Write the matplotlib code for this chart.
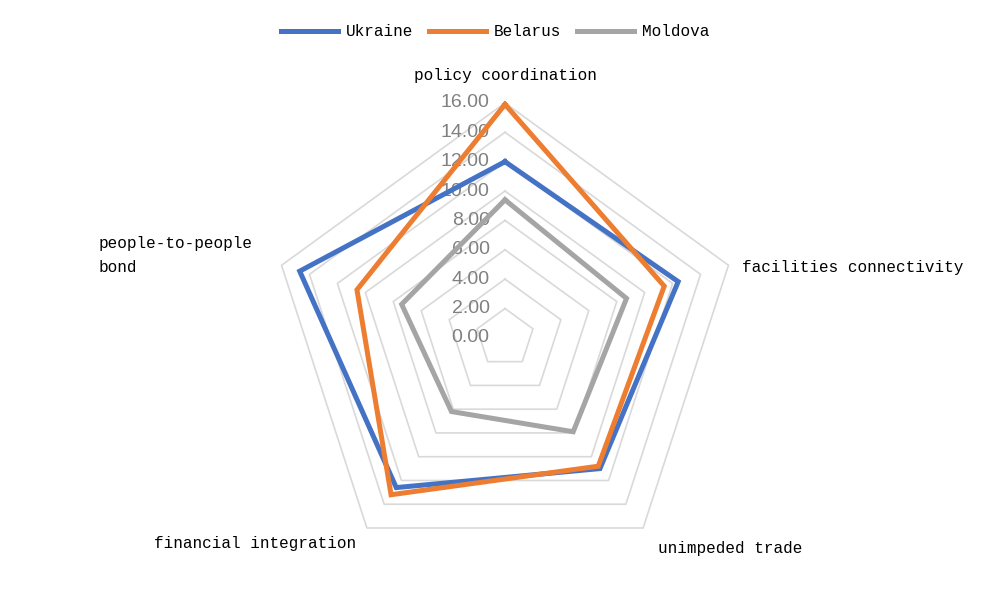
"""
Radar chart: five cooperation indicators for Ukraine, Belarus and Moldova.
"""
import numpy as np
import matplotlib
matplotlib.use("Agg")
import matplotlib.pyplot as plt
from matplotlib.lines import Line2D

categories = ["policy coordination", "facilities connectivity",
              "unimpeded trade", "financial integration",
              "people-to-people\nbond"]
ukraine = [12.0, 12.4, 11.0, 12.6, 14.7]
belarus = [15.9, 11.4, 10.8, 13.2, 10.6]
moldova = [9.4, 8.7, 7.9, 6.2, 7.4]
series_names = ["Ukraine", "Belarus", "Moldova"]
colors = ["#4472C4", "#ED7D31", "#A5A5A5"]
ring_values = [0, 2, 4, 6, 8, 10, 12, 14, 16]

label_font = "Liberation Mono"
tick_font = "Liberation Sans"

fig = plt.figure(figsize=(10.02, 5.99), dpi=100)
ax = fig.add_axes([0.2695, 0.0434, 0.469, 0.785], projection="polar")
ax.set_theta_offset(np.pi / 2)
ax.set_theta_direction(-1)
ax.set_ylim(0, 16)
ax.grid(False)
ax.spines["polar"].set_visible(False)
ax.set_xticks([])
ax.set_yticks([])
ax.patch.set_visible(False)

n = len(categories)
theta = np.linspace(0, 2 * np.pi, n, endpoint=False)
theta_closed = np.append(theta, theta[0])

# pentagon rings
for v in ring_values[1:]:
    ax.plot(theta_closed, [v] * (n + 1), color="#D9D9D9", lw=1.2,
            zorder=1, clip_on=False)

# radial tick labels along the top spoke
for v in ring_values:
    ax.annotate("{:.2f}".format(v), xy=(0, v), xytext=(-11, 0),
                textcoords="offset points", ha="right", va="center",
                fontsize=14, color="#808080", family=tick_font, zorder=2,
                annotation_clip=False)

for vals, name, c in zip([ukraine, belarus, moldova], series_names, colors):
    ax.plot(theta_closed, vals + vals[:1], color=c, lw=3.6, zorder=3,
            solid_joinstyle="miter", label=name, clip_on=False)

# category labels
label_pos = [(0, 17.9, "center"), (73.5, 16.8, "left"), (144, 17.7, "left"),
             (216, 17.3, "right"), (288, 18.1, "right")]
for cat, (deg, r, ha) in zip(categories, label_pos):
    ax.text(np.deg2rad(deg), r, cat, ha=ha, va="center", fontsize=11.5,
            family=label_font, multialignment="left", linespacing=1.75,
            clip_on=False)

handles = [Line2D([], [], color=c, lw=3.6) for c in colors]
fig.legend(handles, series_names, loc="center", ncol=3,
           bbox_to_anchor=(0.494, 0.947), frameon=False,
           prop={"family": label_font, "size": 11.5},
           handlelength=3.6, handletextpad=0.45, columnspacing=1.0)

fig.savefig("out.png", dpi=100)
